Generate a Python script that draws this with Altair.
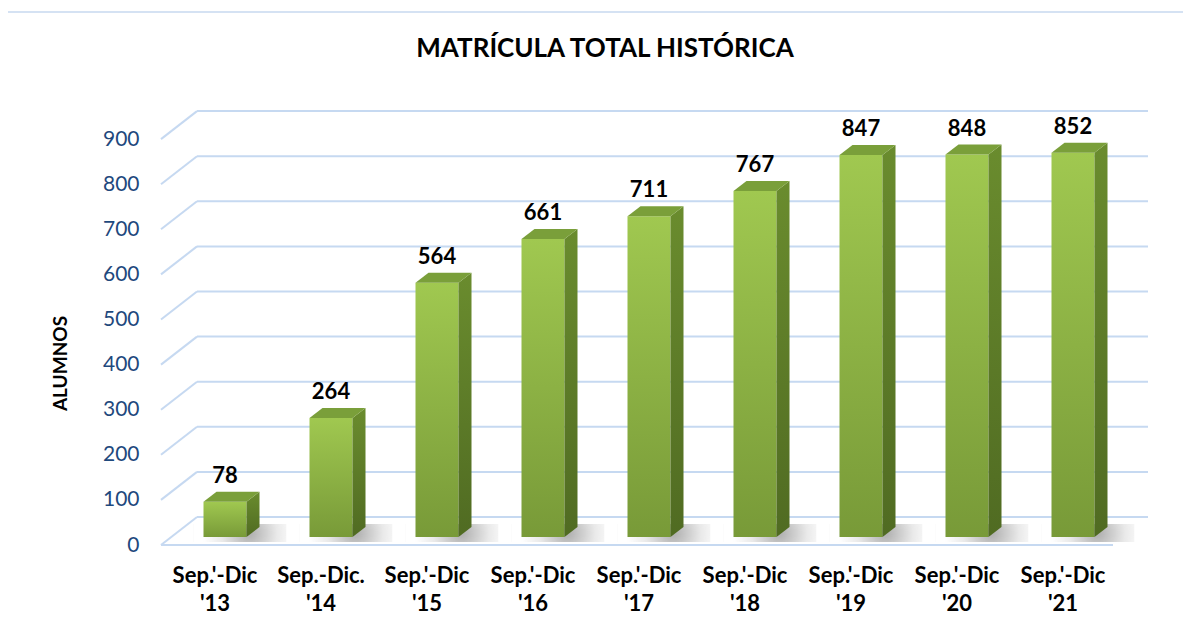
import altair as alt
import pandas as pd

# ---- data ----
values = [78, 264, 564, 661, 711, 767, 847, 848, 852]
lab_line1 = ["Sep.'-Dic", "Sep.-Dic.", "Sep.'-Dic", "Sep.'-Dic", "Sep.'-Dic",
             "Sep.'-Dic", "Sep.'-Dic", "Sep.'-Dic", "Sep.'-Dic"]
lab_line2 = ["'13", "'14", "'15", "'16", "'17", "'18", "'19", "'20", "'21"]
ticks = [0, 100, 200, 300, 400, 500, 600, 700, 800, 900]
title_text = "MATRÍCULA TOTAL HISTÓRICA"
y_title = "ALUMNOS"

# ---- layout (pixels) ----
LEFT, TOP, W, H = 150, 100, 1000, 460
PXX = 106.0      # px per category step
PXY = 0.451      # px per student
X0 = -65 / PXX
YMAX = 445 / PXY
YMIN = YMAX - H / PXY


def ux(p):
    return p / PXX


def uy(p):
    return p / PXY


GL = X0 + ux(11)          # front-left edge of the grid
GDX, GDY = ux(36), uy(28)  # grid depth
GR = X0 + ux(998)         # right end of back grid lines
FR = X0 + ux(963)         # right end of front floor line
BOFFX, BOFFY = ux(10), uy(8)   # bar front plane offset
BW = ux(43)
BDX, BDY = ux(13), uy(10)      # bar depth

xscale = alt.Scale(domain=[X0, X0 + W / PXX], nice=False, zero=False)
yscale = alt.Scale(domain=[YMIN, YMAX], nice=False, zero=False)
FONT = "Lato"
yaxis = alt.Axis(values=ticks, grid=False, domain=False, ticks=False,
                 labelPadding=11, labelFontSize=21, labelColor="#1f497d",
                 labelFont=FONT, title=y_title, titleFont=FONT,
                 titleFontSize=19, titleFontWeight="bold", titleColor="#000000",
                 titleX=-90, titleY=263, titleAlign="center",
                 titleBaseline="middle", titleAngle=270)


def X(f):
    return alt.X(f, type="quantitative", scale=xscale, axis=None)


def Y(f):
    return alt.Y(f, type="quantitative", scale=yscale, axis=yaxis)


GRID = "#c6d9f1"

grid_slant = pd.DataFrame(
    [{"x": GL, "y": t, "t": t} for t in ticks] +
    [{"x": GL + GDX, "y": t + GDY, "t": t} for t in ticks])
grid_back = pd.DataFrame({"x": [GL + GDX] * len(ticks), "x2": [GR] * len(ticks),
                          "y": [t + GDY for t in ticks]})
floor_front = pd.DataFrame({"x": [GL], "x2": [FR], "y": [0]})

rows = []
for i, v in enumerate(values):
    xl = i + BOFFX - BW / 2
    xr = i + BOFFX + BW / 2
    rows.append({"i": i, "v": v, "xl": xl, "xr": xr, "base": BOFFY, "top": v + BOFFY,
                 "xc": i + BOFFX, "ly": v + BOFFY + BDY + uy(9),
                 "sx1": xl - ux(10), "sx2": xr + ux(40),
                 "sy1": BOFFY - uy(5), "sy2": BOFFY + uy(13)})
bars = pd.DataFrame(rows)

side = pd.DataFrame(
    [{"i": r["i"], "x": r["xr"], "lo": r["base"], "hi": r["top"]} for r in rows] +
    [{"i": r["i"], "x": r["xr"] + BDX, "lo": r["base"] + BDY, "hi": r["top"] + BDY} for r in rows])
topface = pd.DataFrame(
    [{"i": r["i"], "y": r["top"], "xa": r["xl"], "xb": r["xr"]} for r in rows] +
    [{"i": r["i"], "y": r["top"] + BDY, "xa": r["xl"] + BDX, "xb": r["xr"] + BDX} for r in rows])

cats = pd.DataFrame({"x": list(range(len(values))), "l1": lab_line1, "l2": lab_line2,
                     "y1": [-(583 - 545) / PXY] * len(values),
                     "y2": [-(611 - 545) / PXY] * len(values)})

border = alt.Chart(pd.DataFrame({"a": [0]})).mark_rect(
    filled=False, stroke="#d5e2f3", strokeWidth=2
).encode(x=alt.value(-143), x2=alt.value(1060), y=alt.value(-88), y2=alt.value(560))

title = alt.Chart(pd.DataFrame({"t": [title_text]})).mark_text(
    font=FONT, fontSize=26, fontWeight="bold", color="#000000",
    align="center", baseline="alphabetic"
).encode(x=alt.value(455), y=alt.value(-43), text="t:N")

l_slant = alt.Chart(grid_slant).mark_line(color=GRID, strokeWidth=2).encode(
    x=X("x"), y=Y("y"), detail="t:N")
l_back = alt.Chart(grid_back).mark_rule(color=GRID, strokeWidth=2).encode(
    x=X("x"), x2="x2", y=Y("y"))
l_floor = alt.Chart(floor_front).mark_rule(color=GRID, strokeWidth=2).encode(
    x=X("x"), x2="x2", y=Y("y"))

shadow = alt.Chart(bars).mark_rect(
    fill=alt.RadialGradient(gradient="radial", x1=0.6, y1=0.5, x2=0.6, y2=0.5, r1=0, r2=0.5,
                            stops=[alt.GradientStop(color="rgba(40,40,40,0.38)", offset=0),
                                   alt.GradientStop(color="rgba(40,40,40,0.1)", offset=0.6),
                                   alt.GradientStop(color="rgba(40,40,40,0)", offset=1)])
).encode(x=X("sx1"), x2="sx2", y=Y("sy1"), y2="sy2")

front = alt.Chart(bars).mark_rect(
    fill=alt.LinearGradient(gradient="linear", x1=0, y1=0, x2=0, y2=1,
                            stops=[alt.GradientStop(color="#a0c850", offset=0),
                                   alt.GradientStop(color="#789a38", offset=1)])
).encode(x=X("xl"), x2="xr", y=Y("base"), y2="top")

sidef = alt.Chart(side).mark_area(
    fill=alt.LinearGradient(gradient="linear", x1=0, y1=0, x2=0, y2=1,
                            stops=[alt.GradientStop(color="#6a8c2e", offset=0),
                                   alt.GradientStop(color="#506b22", offset=1)])
).encode(x=X("x"), y=Y("lo"), y2="hi", detail="i:N")

topf = alt.Chart(topface).mark_area(orient="horizontal", color="#7a9f3a").encode(
    y=Y("y"), x=X("xa"), x2="xb", detail="i:N")

vlabels = alt.Chart(bars).mark_text(font=FONT, fontSize=22, fontWeight="bold",
                                    color="#000000", baseline="alphabetic").encode(
    x=X("xc"), y=Y("ly"), text="v:Q")

c1 = alt.Chart(cats).mark_text(font=FONT, fontSize=22, fontWeight="bold",
                               color="#000000", baseline="alphabetic").encode(
    x=X("x"), y=Y("y1"), text="l1:N")
c2 = alt.Chart(cats).mark_text(font=FONT, fontSize=22, fontWeight="bold",
                               color="#000000", baseline="alphabetic").encode(
    x=X("x"), y=Y("y2"), text="l2:N")

chart = alt.layer(border, title, l_slant, l_back, l_floor, shadow, front, sidef, topf,
                  vlabels, c1, c2).properties(
    width=W, height=H,
    autosize=alt.AutoSizeParams(type="none"),
    padding={"left": LEFT - 8, "top": TOP - 8, "right": 33, "bottom": 60},
).configure(background="white").configure_view(stroke="transparent", strokeWidth=0)

chart.save("out.html", embed_options={"renderer": "svg", "actions": False})
